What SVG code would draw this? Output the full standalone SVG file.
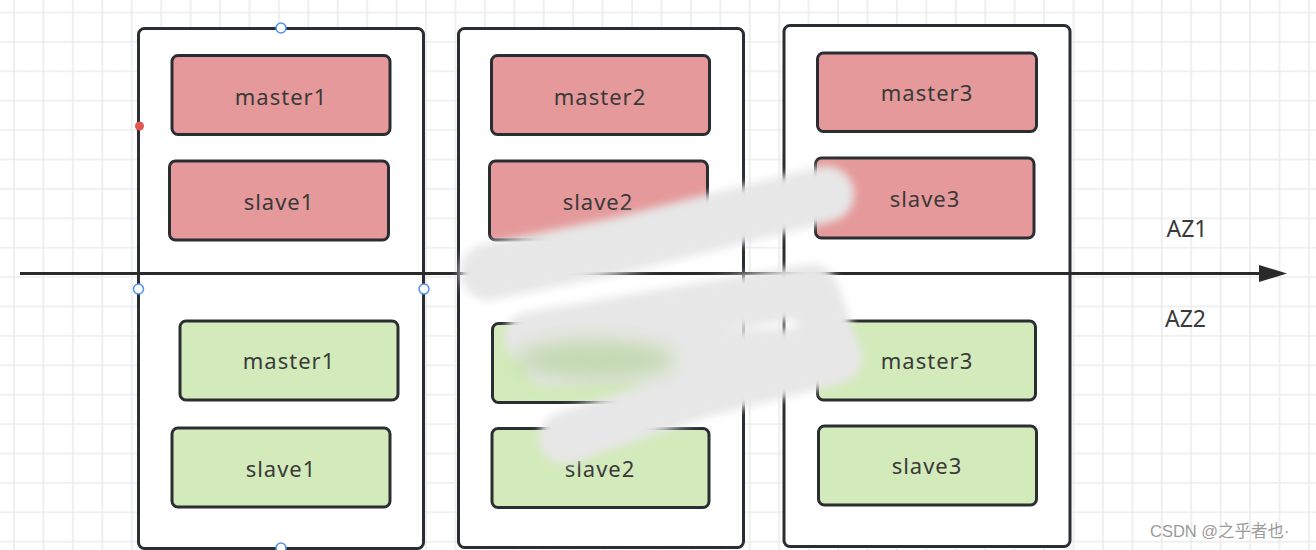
<svg xmlns="http://www.w3.org/2000/svg" width="1316" height="550" viewBox="0 0 1316 550">
<style>
.col{fill:#fff;stroke:#2a2e33;stroke-width:3}
.red{fill:#e5999a;stroke:#2a2e33;stroke-width:3}
.green{fill:#d3eabb;stroke:#2a2e33;stroke-width:3}
.lbl{font-family:"Noto Sans","Open Sans",sans-serif;font-size:22px;fill:#3a3a3a;text-anchor:middle;letter-spacing:1px}
.az{font-family:"Noto Sans","Liberation Sans",sans-serif;font-size:23px;fill:#3a3a3a;text-anchor:middle}
.handle{fill:#fff;stroke:#4f92ea;stroke-width:1.5}
.smudge{fill:none;stroke:#e7e7e7;stroke-linecap:round;stroke-linejoin:round}
</style>
<defs>
<pattern id="grid" patternUnits="userSpaceOnUse" x="-0.715" y="-2.2" width="29.43" height="29.4">
<path d="M14.715 0V29.4M0 14.7H29.43" stroke="#ececec" stroke-width="1.6" fill="none"/>
</pattern>
<filter id="blur" x="-20%" y="-40%" width="140%" height="180%"><feGaussianBlur stdDeviation="4"/></filter>
<filter id="blur2" x="-30%" y="-60%" width="160%" height="220%"><feGaussianBlur stdDeviation="10"/></filter>
</defs>
<rect width="1316" height="550" fill="#fff"/>
<rect width="1316" height="550" fill="url(#grid)"/>

<g id="az-col1"><rect class="col" x="138.5" y="28.5" width="285" height="520" rx="6"/></g>
<g id="az-col2"><rect class="col" x="458.5" y="28.5" width="285" height="519" rx="6"/></g>
<g id="az-col3"><rect class="col" x="784" y="25.5" width="286" height="521" rx="6"/></g>

<g id="connectors">
<path d="M20 273.5H1260" stroke="#2a2a2a" stroke-width="3" fill="none"/>
<path d="M1259 265L1287 273.5L1259 282Z" fill="#2a2a2a"/>
</g>

<g id="az1-master1"><rect class="red" x="172" y="55.5" width="218" height="79" rx="6"/><text class="lbl" x="281" y="105">master1</text></g>
<g id="az1-slave1"><rect class="red" x="169.5" y="161" width="219" height="79" rx="6"/><text class="lbl" x="279" y="210">slave1</text></g>
<g id="az2-master1"><rect class="green" x="180" y="321" width="218" height="79" rx="6"/><text class="lbl" x="289" y="369">master1</text></g>
<g id="az2-slave1"><rect class="green" x="172" y="428" width="218" height="79" rx="6"/><text class="lbl" x="281" y="477">slave1</text></g>

<g id="az1-master2"><rect class="red" x="491.5" y="55.5" width="218" height="79" rx="6"/><text class="lbl" x="600" y="105">master2</text></g>
<g id="az1-slave2"><rect class="red" x="489.5" y="161" width="218" height="79" rx="6"/><text class="lbl" x="598" y="210">slave2</text></g>
<g id="az2-master2"><rect class="green" x="492.5" y="323.5" width="217" height="79" rx="6"/></g>
<g id="az2-slave2"><rect class="green" x="492" y="428.5" width="217" height="79" rx="6"/><text class="lbl" x="600" y="477">slave2</text></g>

<g id="az1-master3"><rect class="red" x="817.5" y="53" width="219" height="78.5" rx="6"/><text class="lbl" x="927" y="101">master3</text></g>
<g id="az1-slave3"><rect class="red" x="815.5" y="158" width="218.5" height="80" rx="6"/><text class="lbl" x="925" y="207">slave3</text></g>
<g id="az2-master3"><rect class="green" x="817.5" y="321" width="218" height="79" rx="6"/><text class="lbl" x="927" y="369">master3</text></g>
<g id="az2-slave3"><rect class="green" x="818.5" y="426" width="218" height="79" rx="6"/><text class="lbl" x="927" y="474">slave3</text></g>

<text class="az" x="1187" y="236.5">AZ1</text>
<text class="az" x="1185.5" y="326.5">AZ2</text>

<g id="handles">
<circle class="handle" cx="281" cy="28" r="5"/>
<circle class="handle" cx="138.5" cy="289" r="5"/>
<circle class="handle" cx="424" cy="289" r="5"/>
<circle class="handle" cx="281" cy="548" r="5"/>
<circle cx="139.5" cy="126" r="4.5" fill="#e0574f"/>
</g>

<g id="smudge" filter="url(#blur)">
<path class="smudge" stroke-width="56" d="M488 272L620 245L826 194"/>
<path class="smudge" stroke-width="52" d="M530 338L812 290L836 358L700 392L565 438"/>
<path class="smudge" stroke-width="48" d="M548 362L800 352"/>
</g>
<ellipse cx="595" cy="360" rx="80" ry="20" fill="#b9d5a1" opacity="0.75" filter="url(#blur2)"/>

<text x="1150" y="537" font-family="'Liberation Sans','Noto Sans CJK SC',sans-serif" font-size="16.5" fill="#9a9a9a">CSDN @之乎者也·</text>
</svg>
